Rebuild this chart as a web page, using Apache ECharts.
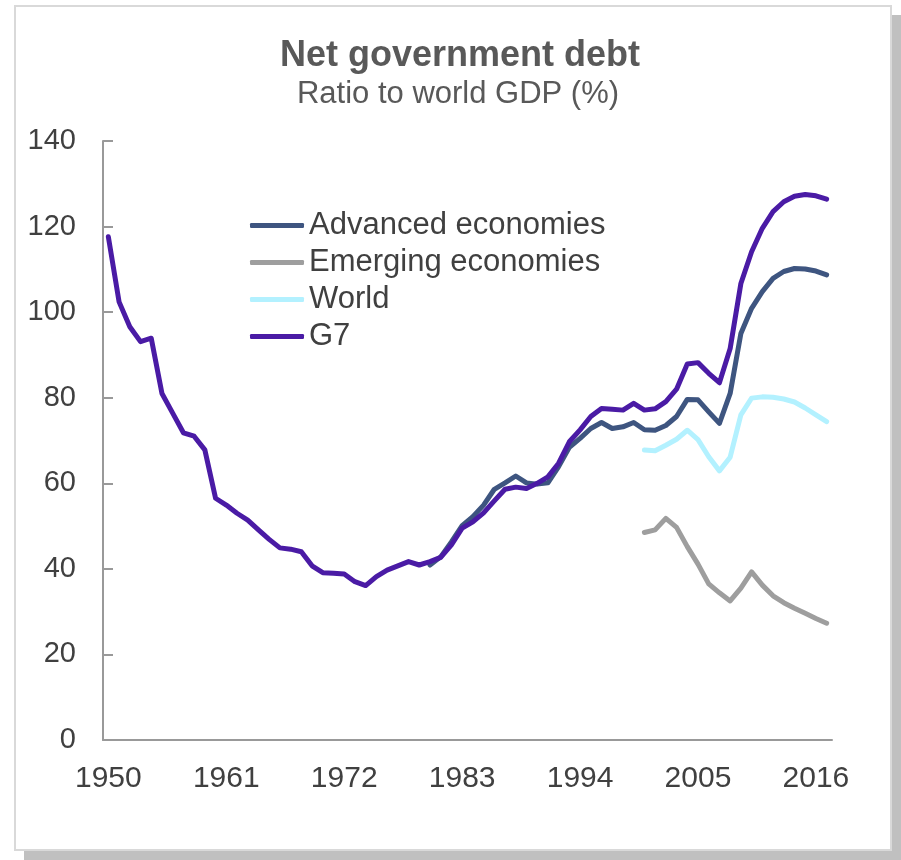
<!DOCTYPE html>
<html>
<head>
<meta charset="utf-8">
<script src="https://cdn.jsdelivr.net/npm/echarts@6/dist/echarts.min.js"></script>
<style>
  html, body { margin: 0; padding: 0; background: #ffffff; }
  #frame {
    position: absolute; left: 14px; top: 5px; width: 878px; height: 846px;
    box-sizing: border-box; border: 2px solid #d9d9d9; background: #ffffff;
    box-shadow: 10px 10px 0 #c0c0c0;
  }
  #chart { position: absolute; left: 0; top: 0; width: 901px; height: 860px; }
</style>
</head>
<body>
<div id="frame"></div>
<div id="chart"></div>
<script>
// Years on the category axis
const firstYear = 1950;
const lastYear = 2017;

// Net government debt, % of GDP
const g7Start = 1950;
const g7 = [117.6, 102.4, 96.6, 93.1, 93.9, 81.0, 76.4, 71.8, 71.0, 67.8,
            56.5, 54.9, 53.0, 51.4, 49.1, 46.9, 44.9, 44.6, 44.0, 40.7,
            39.1, 39.0, 38.8, 37.0, 36.1, 38.2, 39.7, 40.7, 41.7, 40.9,
            41.7, 42.7, 45.6, 49.5, 51.0, 53.1, 55.9, 58.6, 59.1, 58.8,
            60.0, 61.5, 64.7, 69.7, 72.5, 75.6, 77.5, 77.3, 77.1, 78.7,
            77.1, 77.4, 79.1, 82.0, 87.9, 88.2, 85.7, 83.5, 91.5, 106.7,
            114.1, 119.6, 123.5, 125.8, 127.1, 127.5, 127.2, 126.4];

const advancedStart = 1980;
const advanced = [40.9, 42.8, 46.3, 50.1, 52.2, 54.9, 58.6, 60.1, 61.7, 60.1,
                  59.8, 60.1, 63.9, 68.4, 70.5, 72.8, 74.2, 72.8, 73.2, 74.2,
                  72.5, 72.4, 73.5, 75.6, 79.6, 79.5, 76.7, 74.0, 81.0, 95.0,
                  100.9, 104.8, 107.9, 109.5, 110.2, 110.1, 109.6, 108.7];

const worldStart = 2000;
const world = [67.8, 67.6, 68.9, 70.3, 72.4, 70.2, 66.2, 62.9, 66.1, 76.0,
               79.9, 80.2, 80.1, 79.7, 79.0, 77.6, 76.0, 74.4];

const emergingStart = 2000;
const emerging = [48.5, 49.1, 51.8, 49.7, 45.2, 41.1, 36.5, 34.4, 32.5, 35.5,
                  39.3, 36.2, 33.7, 32.1, 30.8, 29.6, 28.4, 27.3];

const seriesNames = ['Advanced economies', 'Emerging economies', 'World', 'G7'];
const seriesColors = ['#3e5580', '#9e9e9e', '#b3f1ff', '#4a1ba5'];

const years = [];
for (let y = firstYear; y <= lastYear; y++) years.push(String(y));

// Align a series that begins in a later year with the shared year axis
function pad(start, values) {
  const out = new Array(start - firstYear).fill(null);
  return out.concat(values);
}

const FONT = "'Liberation Sans', Arial, sans-serif";

const chart = echarts.init(document.getElementById('chart'), null, { renderer: 'canvas' });

const seriesData = [pad(advancedStart, advanced), pad(emergingStart, emerging),
                    pad(worldStart, world), pad(g7Start, g7)];

chart.setOption({
  backgroundColor: 'transparent',
  animation: false,
  graphic: [
    { type: 'text', x: 460, y: 56,
      style: { text: 'Net government debt', fill: '#595959', textAlign: 'center', textVerticalAlign: 'middle',
               font: 'bold 36px ' + FONT } },
    { type: 'text', x: 458, y: 94,
      style: { text: 'Ratio to world GDP (%)', fill: '#595959', textAlign: 'center', textVerticalAlign: 'middle',
               font: '31px ' + FONT } }
  ],
  legend: {
    orient: 'vertical', left: 250, top: 210, padding: 0,
    itemWidth: 54, itemHeight: 5, itemGap: 6, icon: 'roundRect',
    textStyle: { fontFamily: FONT, fontSize: 31, color: '#404040', lineHeight: 30, padding: [0, 0, 0, 0] },
    data: seriesNames
  },
  grid: { left: 103, right: 69, top: 141, bottom: 120, containLabel: false },
  xAxis: {
    type: 'category', data: years, boundaryGap: true,
    axisLine: { lineStyle: { color: '#999999', width: 2 } },
    axisTick: { show: false },
    axisLabel: { interval: 10, margin: 24, fontFamily: FONT, fontSize: 30, color: '#404040' },
    splitLine: { show: false }
  },
  yAxis: {
    type: 'value', min: 0, max: 140, interval: 20,
    axisLine: { show: true, lineStyle: { color: '#999999', width: 2 } },
    axisTick: { show: true, inside: true, length: 10, lineStyle: { color: '#999999', width: 2 } },
    axisLabel: { margin: 27, fontFamily: FONT, fontSize: 29, color: '#404040' },
    splitLine: { show: false }
  },
  series: seriesNames.map((name, i) => ({
    name: name, type: 'line', data: seriesData[i],
    showSymbol: false, symbol: 'none', connectNulls: false,
    color: seriesColors[i],
    lineStyle: { color: seriesColors[i], width: 5, cap: 'round', join: 'round' },
    z: 2 + i
  }))
});
</script>
</body>
</html>
